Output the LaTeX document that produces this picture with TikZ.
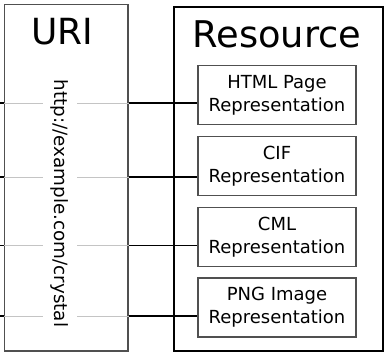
\documentclass[tikz,border=0pt]{standalone}
\usepackage{fontspec}
\setmainfont{DejaVu Sans}
\usepackage{xcolor}
\usepackage{tikz}
\usetikzlibrary{positioning}
\definecolor{INK}{HTML}{000000}
\definecolor{FRAME}{HTML}{505050}
\definecolor{FAINT}{HTML}{C4C4C4}

\begin{document}
\begin{tikzpicture}[
  x=1pt, y=-1pt,
  uribox/.style={draw=FRAME, line width=1.5pt, inner sep=0pt, minimum width=123.5pt, minimum height=346.5pt},
  resbox/.style={draw=INK, line width=2pt, inner sep=0pt, minimum width=208.5pt, minimum height=344pt},
  rep/.style={draw=FRAME, line width=1.1pt, minimum width=158pt, minimum height=59pt, align=center, inner sep=0pt, font=\fontsize{18}{23}\selectfont},
  title/.style={anchor=base, font=\fontsize{36}{40}\selectfont},
  link/.style={draw=INK, line width=1.6pt},
  faint/.style={draw=FAINT, line width=1.5pt}
]
\useasboundingbox (0,0) rectangle (384,353);

% the two frames
\node[uribox] (uri) at (66,178) {};
\node[resbox] (res) at (278.25,179.5) {};
\node[title] (uritl) at (62,45) {URI};
\node[title, font=\fontsize{36.8}{40}\selectfont] (restl) at (277,48) {Resource};

% representations
\node[rep] (rep1) at (277,95) {HTML Page\\Representation};
\node[rep] (rep2) at (277,166) {CIF\\Representation};
\node[rep] (rep3) at (277,236.7) {CML\\Representation};
\node[rep] (rep4) at (277,307.5) {PNG Image\\Representation};

% links from the uri to each representation
\foreach \n/\y in {1/103.3, 2/177.3, 3/245.7, 4/316.3} {
  \coordinate (e\n) at (0,\y);
  \draw[link] (e\n) -- (uri.west |- e\n);
  \draw[faint] (uri.west |- e\n) -- (uri.east |- e\n);
  \draw[link] (uri.east |- e\n) -- (rep\n.west |- e\n);
}

\node[rotate=-90, fill=white, inner xsep=0pt, inner ysep=8pt, font=\fontsize{18.3}{20}\selectfont] (addr) at (60,203.4) {http://example.com/crystal};

\end{tikzpicture}
\end{document}
